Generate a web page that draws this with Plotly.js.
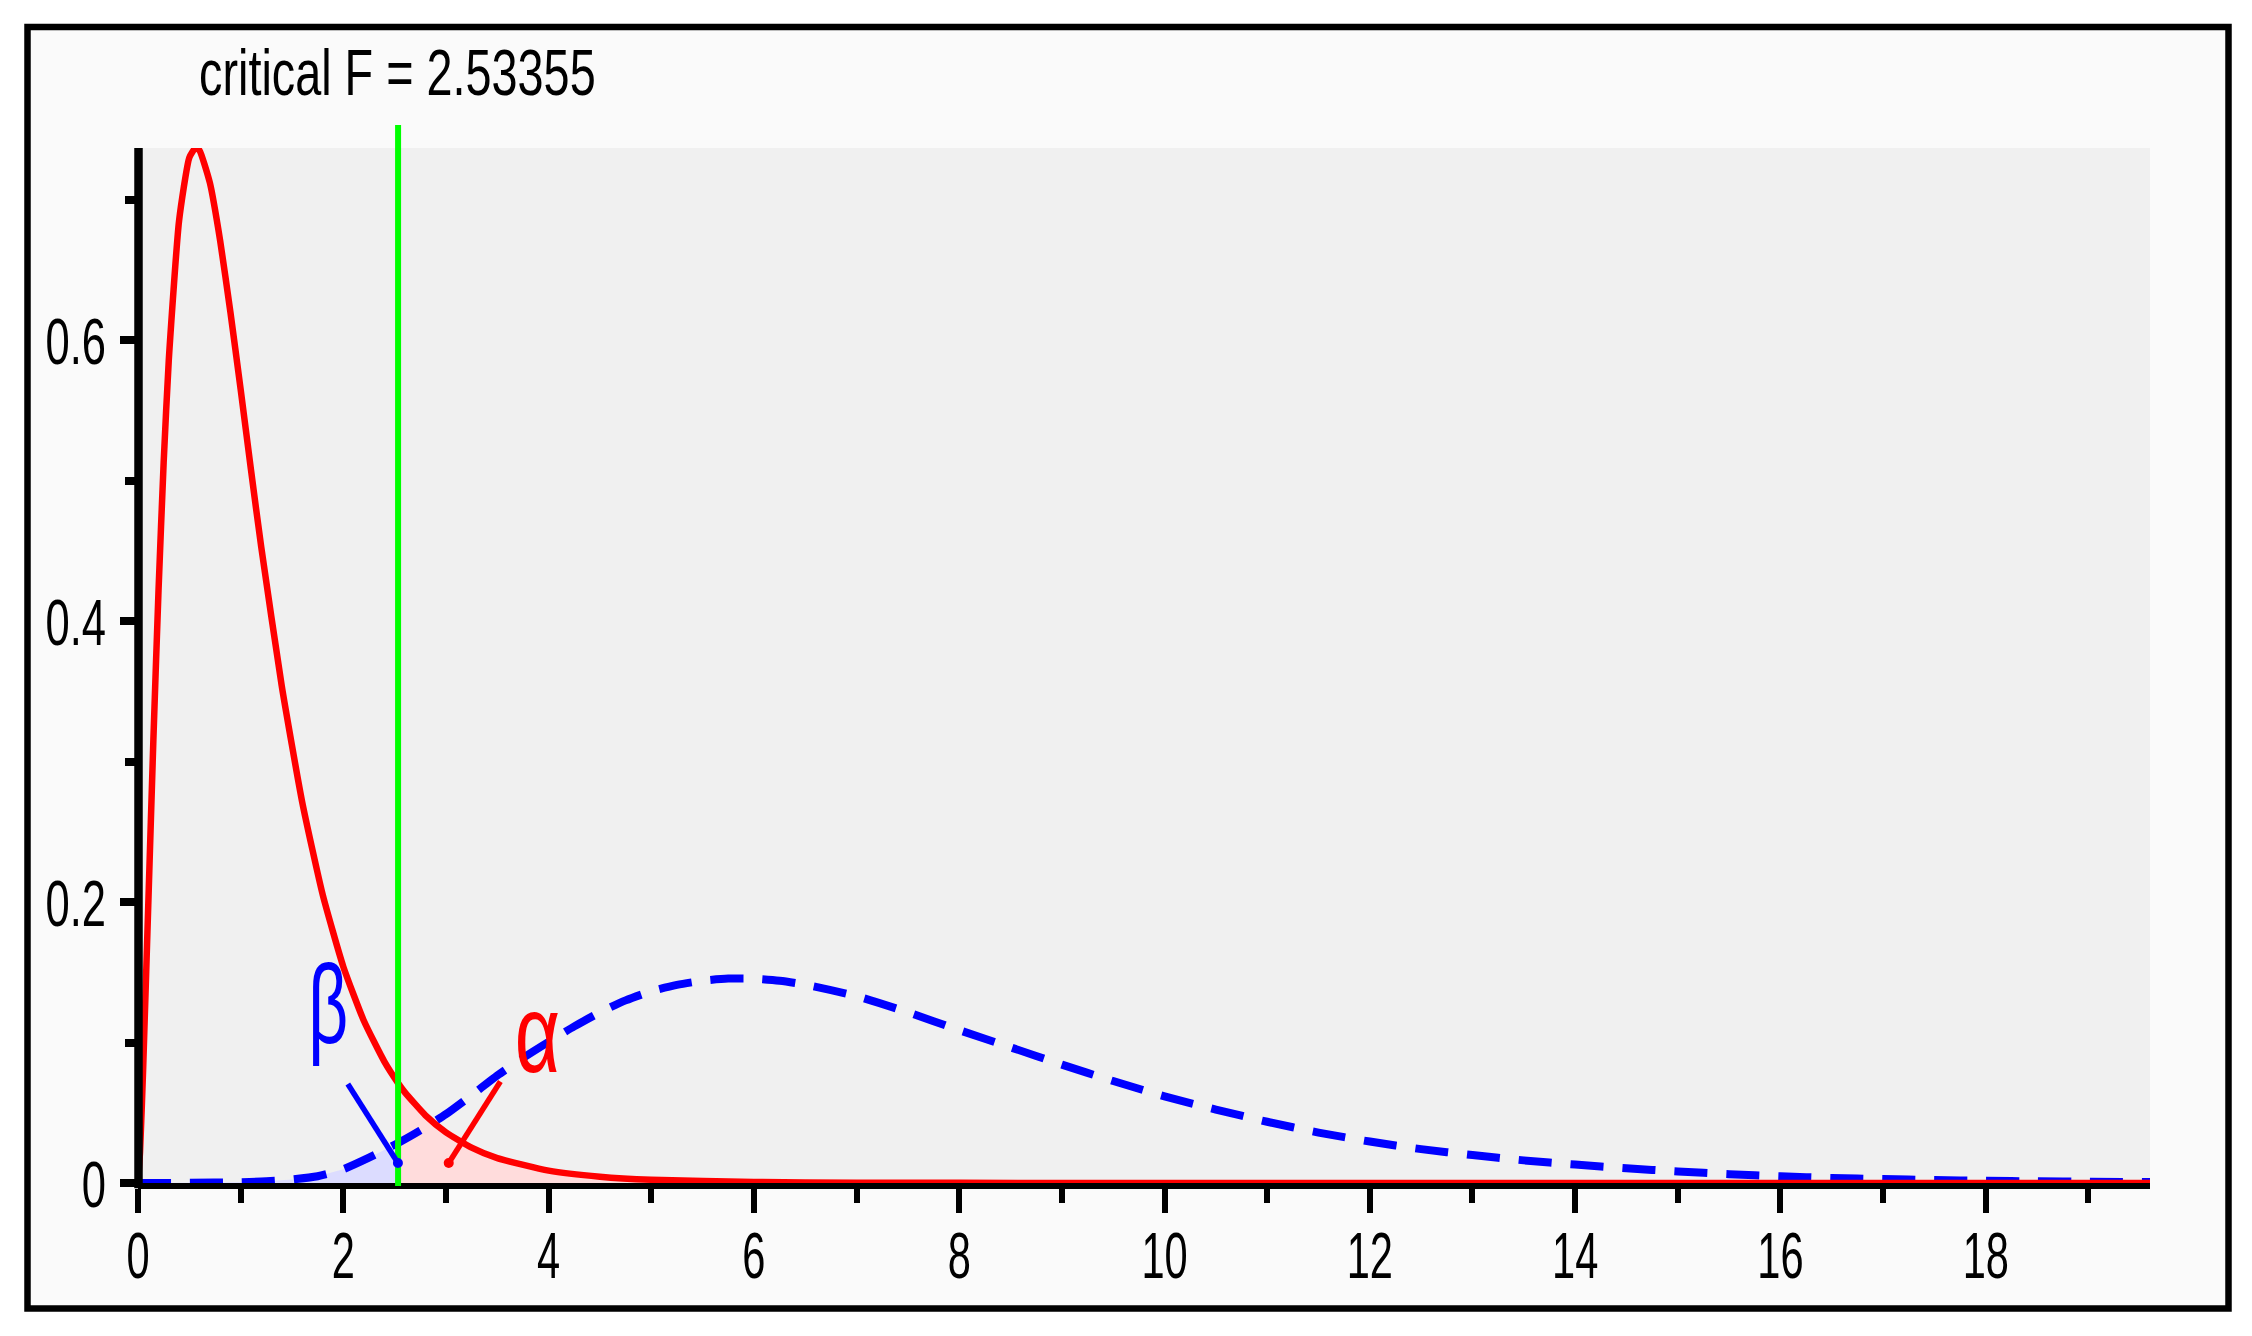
<!DOCTYPE html>
<html>
<head>
<meta charset="utf-8">
<script src="https://cdn.plot.ly/plotly-3.0.1.min.js"></script>
<style>
  html, body { margin: 0; padding: 0; background: #ffffff; }
  #chart { width: 2252px; height: 1336px; }
</style>
</head>
<body>
<div id="chart"></div>
<script>
// ---------------- data ----------------
const critF = 2.53355;

// central F density (red, solid)
const redX = [0, 0.02, 0.05, 0.1, 0.15, 0.2, 0.25, 0.3, 0.4, 0.5, 0.5625, 0.6, 0.7, 0.8, 0.9, 1.0,
  1.1, 1.2, 1.4, 1.6, 1.8, 2.0, 2.2, 2.4, 2.53355, 2.6, 2.8, 3.0, 3.25, 3.5, 4.0, 4.5, 5.0,
  6.0, 7.0, 8.0, 10, 12, 15, 19.6];
const redY = [0, 0.0224, 0.081, 0.198, 0.316, 0.422, 0.513, 0.586, 0.685, 0.730, 0.737, 0.735,
  0.712, 0.671, 0.620, 0.565, 0.508, 0.453, 0.354, 0.271, 0.205, 0.154, 0.1155, 0.0864, 0.0711,
  0.0645, 0.0482, 0.0361, 0.0252, 0.0177, 0.0088, 0.0045, 0.0023, 0.0007, 0.0002, 0.0001,
  0, 0, 0, 0];

// non-central F density (blue, dashed)
const blueX = [0, 0.5, 1.0, 1.25, 1.5, 1.75, 2.0, 2.25, 2.5, 2.53355, 2.75, 3.0, 3.25, 3.5, 3.75,
  4.0, 4.25, 4.5, 4.75, 5.0, 5.25, 5.5, 5.75, 6.0, 6.25, 6.5, 7.0, 7.5, 8.0, 8.5, 9.0, 9.5, 10,
  10.5, 11, 11.5, 12, 12.5, 13, 13.5, 14, 14.5, 15, 15.5, 16, 16.5, 17, 17.5, 18, 18.5, 19, 19.6];
const blueY = [0, 0.0001, 0.0006, 0.0012, 0.0025, 0.0048, 0.0098, 0.0180, 0.0272, 0.0285, 0.0375,
  0.0490, 0.0625, 0.0765, 0.0890, 0.1005, 0.1115, 0.1215, 0.1300, 0.1365, 0.1410, 0.1440, 0.1455,
  0.1455, 0.1440, 0.1412, 0.1330, 0.1215, 0.1088, 0.0966, 0.0843, 0.0726, 0.0617, 0.0523, 0.0436,
  0.0359, 0.0295, 0.0241, 0.0199, 0.0161, 0.0131, 0.0105, 0.0082, 0.0063, 0.0048, 0.0036, 0.0028,
  0.0021, 0.0016, 0.0012, 0.0009, 0.0007];

// annotation labels and pointer lines [from, to]
const betaLabel = "β";
const alphaLabel = "α";
const betaPos = [1.855, 0.1268];
const alphaPos = [3.89, 0.1064];
const betaPointerX = [2.044, 2.532];
const betaPointerY = [0.0705, 0.0142];
const alphaPointerX = [3.53, 3.027];
const alphaPointerY = [0.0722, 0.0142];

const xRange = [0, 19.6];
const yRange = [0, 0.7368];

// ---------------- styling ----------------
const FONT = "'Liberation Sans', Arial, sans-serif";

const blueFillX = [], blueFillY = [];
blueX.forEach((x, i) => { if (x <= critF) { blueFillX.push(x); blueFillY.push(blueY[i]); } });
const redFillX = [], redFillY = [];
redX.forEach((x, i) => { if (x >= critF) { redFillX.push(x); redFillY.push(redY[i]); } });

const traces = [
  { x: blueFillX, y: blueFillY, type: 'scatter', mode: 'lines', fill: 'tozeroy',
    fillcolor: '#dcdcff', line: { width: 0, color: '#dcdcff' }, hoverinfo: 'skip', showlegend: false },
  { x: redFillX, y: redFillY, type: 'scatter', mode: 'lines', fill: 'tozeroy',
    fillcolor: '#ffdcdc', line: { width: 0, color: '#ffdcdc' }, hoverinfo: 'skip', showlegend: false },
  { x: blueX, y: blueY, type: 'scatter', mode: 'lines',
    line: { color: '#0000ff', width: 8, dash: '33px,19px', shape: 'spline', smoothing: 0.6 }, showlegend: false },
  { x: redX, y: redY, type: 'scatter', mode: 'lines',
    line: { color: '#ff0000', width: 6.5, shape: 'spline', smoothing: 0.5 }, showlegend: false }
];

const W = 2252, H = 1336;
const M = { l: 138, r: 102, t: 148, b: 153 };
const PW = W - M.l - M.r, PH = H - M.t - M.b;
const px = v => (v - M.l) / PW;          // page x -> paper
const py = v => (H - M.b - v) / PH;      // page y -> paper

function dot(x, y, color) {
  return { type: 'circle', xref: 'x', yref: 'y', xsizemode: 'pixel', ysizemode: 'pixel',
    xanchor: x, yanchor: y, x0: -5, x1: 5, y0: -5, y1: 5,
    fillcolor: color, line: { width: 0 }, layer: 'above' };
}

const shapes = [
  // outer frame
  { type: 'rect', xref: 'paper', yref: 'paper', x0: px(27.5), x1: px(2228.5), y0: py(1308.5), y1: py(27),
    fillcolor: '#fafafa', line: { color: '#000000', width: 6.5 }, layer: 'below' },
  // plot area background
  { type: 'rect', xref: 'paper', yref: 'paper', x0: 0, x1: 1, y0: 0, y1: 1,
    fillcolor: '#f0f0f0', line: { width: 0 }, layer: 'below' },
  // critical F line
  { type: 'line', xref: 'x', yref: 'paper', x0: critF, x1: critF, y0: py(1186), y1: py(125),
    line: { color: '#00ff00', width: 6 }, layer: 'above' },
  // vertical axis line (drawn over x = 0 as in the reference)
  { type: 'line', xref: 'paper', yref: 'paper', x0: px(138.5), x1: px(138.5), y0: py(1188.3), y1: 1,
    line: { color: '#000000', width: 8.5 }, layer: 'above' },
  // pointers
  { type: 'line', xref: 'x', yref: 'y', x0: betaPointerX[0], x1: betaPointerX[1],
    y0: betaPointerY[0], y1: betaPointerY[1], line: { color: '#0000ff', width: 5.5 }, layer: 'above' },
  dot(betaPointerX[1], betaPointerY[1], '#0000ff'),
  { type: 'line', xref: 'x', yref: 'y', x0: alphaPointerX[0], x1: alphaPointerX[1],
    y0: alphaPointerY[0], y1: alphaPointerY[1], line: { color: '#ff0000', width: 5.5 }, layer: 'above' },
  dot(alphaPointerX[1], alphaPointerY[1], '#ff0000')
];

const annotations = [
  { text: 'critical F = ' + critF, xref: 'paper', yref: 'paper', x: px(197), y: py(72),
    xanchor: 'left', yanchor: 'middle', showarrow: false,
    font: { family: FONT, size: 65, color: '#000000' } },
  { text: betaLabel, xref: 'x', yref: 'y', x: betaPos[0], y: betaPos[1], showarrow: false,
    xanchor: 'center', yanchor: 'middle', font: { family: FONT, size: 112, color: '#0000ff' } },
  { text: alphaLabel, xref: 'x', yref: 'y', x: alphaPos[0], y: alphaPos[1], showarrow: false,
    xanchor: 'center', yanchor: 'middle', font: { family: FONT, size: 112, color: '#ff0000' } }
];

const axisFont = { family: FONT, size: 65, color: '#000000' };

const layout = {
  width: W, height: H,
  margin: M,
  paper_bgcolor: '#ffffff',
  plot_bgcolor: 'rgba(0,0,0,0)',
  showlegend: false,
  xaxis: {
    range: xRange, autorange: false, showgrid: false, zeroline: false,
    showline: true, linecolor: '#000000', linewidth: 6,
    ticks: 'outside', ticklen: 24, tickwidth: 6, tickcolor: '#000000',
    tick0: 0, dtick: 2, tickfont: axisFont, ticklabelstandoff: -7,
    minor: { ticks: 'outside', dtick: 1, tick0: 0, ticklen: 14, tickwidth: 6, tickcolor: '#000000', showgrid: false }
  },
  yaxis: {
    range: yRange, autorange: false, showgrid: false, zeroline: false,
    showline: false,
    ticks: 'outside', ticklen: 17, tickwidth: 8, tickcolor: '#000000',
    tick0: 0, dtick: 0.2, tickfont: axisFont, ticklabelstandoff: 0,
    minor: { ticks: 'outside', dtick: 0.1, tick0: 0, ticklen: 12, tickwidth: 8, tickcolor: '#000000', showgrid: false }
  },
  shapes: shapes,
  annotations: annotations
};

// horizontally condense text (the reference uses a narrow typeface)
function condense(list, s, frac) {
  list.forEach(t => {
    const b = t.getBBox();
    const ax = b.x + b.width * frac;
    const prev = t.getAttribute('transform') || '';
    t.setAttribute('transform', prev + ' translate(' + ax + ',0) scale(' + s + ',1) translate(' + (-ax) + ',0)');
  });
}
function shift(t, dx, dy) {
  const prev = t.getAttribute('transform') || '';
  t.setAttribute('transform', 'translate(' + dx + ',' + dy + ') ' + prev);
}

Plotly.newPlot('chart', traces, layout, { staticPlot: true, displayModeBar: false }).then(gd => {
  const xt = gd.querySelectorAll('.xtick text');
  const yt = gd.querySelectorAll('.ytick text');
  condense(xt, 0.64, 0.5);
  condense(yt, 0.67, 1.0);
  xt.forEach(t => shift(t, 0, -5.7));
  const host = gd.getBoundingClientRect();
  yt.forEach(t => {
    const r = t.getBoundingClientRect();
    shift(t, 106 - (r.right - host.left), 1.5);
  });
  const ann = gd.querySelectorAll('.annotation-text');
  if (ann[0]) condense([ann[0]], 0.72, 0.0);
  if (ann[1]) condense([ann[1]], 0.62, 0.5);
  if (ann[2]) condense([ann[2]], 0.7, 0.5);
});
</script>
</body>
</html>
